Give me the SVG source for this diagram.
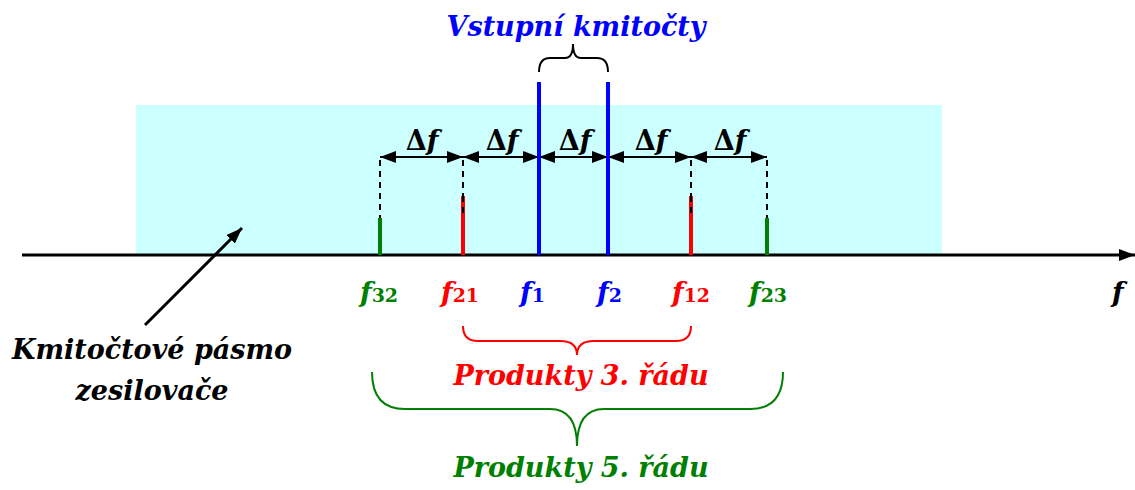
<svg xmlns="http://www.w3.org/2000/svg" width="1135" height="490" viewBox="0 0 1135 490" font-family="'DejaVu Serif', serif" font-weight="bold" font-style="italic">
<defs>
<marker id="ahs" viewBox="0 0 16 12" refX="16" refY="6" markerWidth="16" markerHeight="12" markerUnits="userSpaceOnUse" orient="auto-start-reverse"><path d="M0,0 L16,6 L0,12 z" fill="#000"/></marker>
</defs>
<style>
.t{font-size:27px}
.sub{font-style:normal;font-size:19px}
.d{stroke:#000;stroke-width:2;stroke-dasharray:6,5}
.dim{stroke:#000;stroke-width:2;marker-start:url(#ahs);marker-end:url(#ahs)}
.up{font-style:normal}
</style>
<rect id="band" x="136" y="105" width="806" height="150" fill="#CCFFFF"/>
<g id="connectors">
<line x1="22" y1="255" x2="1135" y2="255" stroke="#000" stroke-width="3" marker-end="url(#ahs)"/>
<line x1="380" y1="160" x2="380" y2="218" class="d"/>
<line x1="463" y1="160" x2="463" y2="218" class="d"/>
<line x1="691" y1="160" x2="691" y2="218" class="d"/>
<line x1="767" y1="160" x2="767" y2="218" class="d"/>
<line x1="380" y1="157" x2="463" y2="157" class="dim"/>
<line x1="463" y1="157" x2="539" y2="157" class="dim"/>
<line x1="539" y1="157" x2="608" y2="157" class="dim"/>
<line x1="608" y1="157" x2="691" y2="157" class="dim"/>
<line x1="691" y1="157" x2="767" y2="157" class="dim"/>
<line x1="145" y1="325" x2="242" y2="228" stroke="#000" stroke-width="3" marker-end="url(#ahs)"/>
</g>
<g id="lines">
<line x1="380" y1="218" x2="380" y2="255" stroke="#008000" stroke-width="4"/>
<line x1="463" y1="196" x2="463" y2="255" stroke="#FF0000" stroke-width="4"/>
<line x1="539" y1="82" x2="539" y2="255" stroke="#0000FF" stroke-width="4"/>
<line x1="608" y1="82" x2="608" y2="255" stroke="#0000FF" stroke-width="4"/>
<line x1="691" y1="196" x2="691" y2="255" stroke="#FF0000" stroke-width="4"/>
<line x1="767" y1="218" x2="767" y2="255" stroke="#008000" stroke-width="4"/>
<line x1="463" y1="196" x2="463" y2="218" class="d"/>
<line x1="691" y1="196" x2="691" y2="218" class="d"/>
</g>
<g id="deltas" class="t">
<text x="422" y="150" text-anchor="middle"><tspan class="up">Δ</tspan>f</text>
<text x="502" y="150" text-anchor="middle"><tspan class="up">Δ</tspan>f</text>
<text x="575" y="150" text-anchor="middle"><tspan class="up">Δ</tspan>f</text>
<text x="651" y="150" text-anchor="middle"><tspan class="up">Δ</tspan>f</text>
<text x="730" y="150" text-anchor="middle"><tspan class="up">Δ</tspan>f</text>
</g>
<g id="labels" class="t">
<text x="360" y="302" fill="#008000">f<tspan class="sub">32</tspan></text>
<text x="441" y="302" fill="#FF0000">f<tspan class="sub">21</tspan></text>
<text x="520" y="302" fill="#0000FF">f<tspan class="sub">1</tspan></text>
<text x="597" y="302" fill="#0000FF">f<tspan class="sub">2</tspan></text>
<text x="672" y="302" fill="#FF0000">f<tspan class="sub">12</tspan></text>
<text x="749" y="302" fill="#008000">f<tspan class="sub">23</tspan></text>
<text x="1112" y="302" fill="#000">f</text>
</g>
<g id="input">
<text x="576" y="36" class="t" text-anchor="middle" fill="#0000FF">Vstupní kmitočty</text>
<path d="M539,72 Q539,58 550,58 L565,58 Q573,58 573,44 Q573,58 581,58 L597,58 Q608,58 608,72" fill="none" stroke="#000" stroke-width="2"/>
</g>
<g id="p3">
<path d="M463,326 Q463,341 478,341 L560,341 Q577,341 577,355 Q577,341 594,341 L676,341 Q691,341 691,326" fill="none" stroke="#FF0000" stroke-width="2"/>
<text x="581" y="385" class="t" text-anchor="middle" fill="#FF0000">Produkty 3. řádu</text>
</g>
<g id="p5">
<path d="M372,372 Q372,409 405,409 L550,409 Q577,409 577,446 Q577,409 604,409 L750,409 Q783,409 783,372" fill="none" stroke="#008000" stroke-width="2"/>
<text x="581" y="477" class="t" text-anchor="middle" fill="#008000">Produkty 5. řádu</text>
</g>
<g id="band-label" class="t">
<text x="152" y="359" text-anchor="middle" fill="#000">Kmitočtové pásmo</text>
<text x="152" y="400" text-anchor="middle" fill="#000">zesilovače</text>
</g>
</svg>
